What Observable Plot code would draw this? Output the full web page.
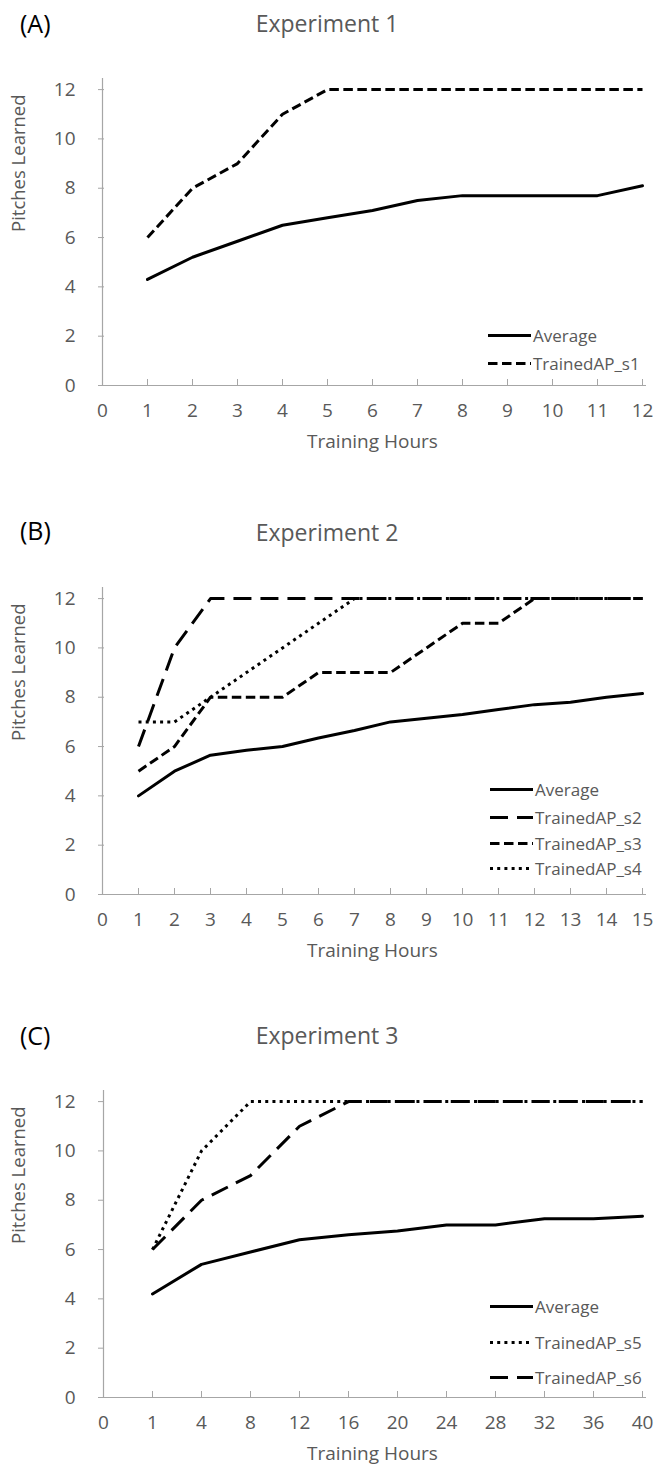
<!DOCTYPE html>
<html><head><meta charset="utf-8">
<script src="https://cdn.jsdelivr.net/npm/d3@7"></script>
<script src="https://cdn.jsdelivr.net/npm/@observablehq/plot@0.6"></script>
<style>
body{margin:0;background:#fff;font-family:"Open Sans",sans-serif;}
#wrap{position:relative;width:659px;height:1470px;overflow:hidden;background:#fff;}
.abs{position:absolute;white-space:nowrap;line-height:1;}
.plabel{font-size:25px;color:#000;transform:translateY(-50%);}
.title{font-size:23px;color:#595959;transform:translate(-50%,-50%);}
.leg{position:absolute;font-size:17px;color:#595959;display:flex;align-items:center;transform:translateY(-50%);line-height:1;white-space:nowrap;}
.leg svg{display:block;margin-right:2px;}
svg.plot{position:absolute;left:0;}
</style></head><body><div id="wrap"></div>
<script>
// ---------- data ----------
const hoursA = ["0","1","2","3","4","5","6","7","8","9","10","11","12"];
const averageA = [4.3, 5.2, 5.85, 6.5, 6.8, 7.1, 7.5, 7.7, 7.7, 7.7, 7.7, 8.1];
const trainedS1 = [6, 8, 9, 11, 12, 12, 12, 12, 12, 12, 12, 12];

const hoursB = ["0","1","2","3","4","5","6","7","8","9","10","11","12","13","14","15"];
const averageB = [4.0, 5.0, 5.65, 5.85, 6.0, 6.35, 6.65, 7.0, 7.15, 7.3, 7.5, 7.7, 7.8, 8.0, 8.15];
const trainedS2 = [6, 10, 12, 12, 12, 12, 12, 12, 12, 12, 12, 12, 12, 12, 12];
const trainedS3 = [5, 6, 8, 8, 8, 9, 9, 9, 10, 11, 11, 12, 12, 12, 12];
const trainedS4 = [7, 7, 8, 9, 10, 11, 12, 12, 12, 12, 12, 12, 12, 12, 12];

const hoursC = ["0","1","4","8","12","16","20","24","28","32","36","40"];
const averageC = [4.2, 5.4, 5.9, 6.4, 6.6, 6.75, 7.0, 7.0, 7.25, 7.25, 7.35];
const trainedS5 = [6, 10, 12, 12, 12, 12, 12, 12, 12, 12, 12];
const trainedS6 = [6, 8, 9, 11, 12, 12, 12, 12, 12, 12, 12];

const yTicks = [0, 2, 4, 6, 8, 10, 12];

// ---------- styles ----------
const SOLID = null, DASH = "9.5,4.5", LONG = "18,9", DOT = "3,4.2";

const panels = [
  {tag: "(A)", title: "Experiment 1", hours: hoursA, top: 58, tagY: 23, titleY: 23,
   series: [{name: "Average", values: averageA, dash: SOLID}, {name: "TrainedAP_s1", values: trainedS1, dash: DASH}],
   legendX: 488, legendY: [335, 363]},
  {tag: "(B)", title: "Experiment 2", hours: hoursB, top: 567, tagY: 530, titleY: 532,
   series: [{name: "Average", values: averageB, dash: SOLID}, {name: "TrainedAP_s2", values: trainedS2, dash: LONG},
            {name: "TrainedAP_s3", values: trainedS3, dash: DASH}, {name: "TrainedAP_s4", values: trainedS4, dash: DOT}],
   legendX: 490, legendY: [789, 817, 843, 868]},
  {tag: "(C)", title: "Experiment 3", hours: hoursC, top: 1070, tagY: 1035, titleY: 1035,
   series: [{name: "Average", values: averageC, dash: SOLID}, {name: "TrainedAP_s5", values: trainedS5, dash: DOT},
            {name: "TrainedAP_s6", values: trainedS6, dash: LONG}],
   legendX: 490, legendY: [1306, 1342, 1377]}
];

const wrap = document.getElementById("wrap");
const AXIS = "#a6a6a6", TEXT = "#595959";

for (const p of panels) {
  const lineMarks = p.series.map(s => {
    const rows = s.values.map((v, i) => ({hour: p.hours[i + 1], value: v}));
    return Plot.line(rows, {
      x: "hour", y: "value", stroke: "black", strokeWidth: 3,
      strokeDasharray: s.dash || undefined,
      strokeLinecap: s.dash ? "butt" : "round", strokeLinejoin: "round"
    });
  });

  const chart = Plot.plot({
    width: 659, height: 407,
    marginTop: 20, marginBottom: 80, marginLeft: 98, marginRight: 13,
    style: {fontFamily: "'Open Sans', sans-serif", fontSize: "19px", background: "transparent", overflow: "visible"},
    x: {type: "point", domain: p.hours, padding: 0},
    y: {domain: [0, 12.45]},
    marks: [
      Plot.axisY({ticks: yTicks, tickSize: -6, tickPadding: 29, stroke: AXIS, fill: TEXT, fontSize: 19, label: null}),
      Plot.axisX({tickSize: -6, tickPadding: 24, stroke: AXIS, fill: TEXT, fontSize: 19, label: null}),
      Plot.ruleY([0], {stroke: AXIS, strokeWidth: 1.2}),
      Plot.ruleX([p.hours[0]], {stroke: AXIS, strokeWidth: 1.2}),
      Plot.text(["Pitches Learned"], {frameAnchor: "left", rotate: -90, dx: -79, fontSize: 18.5, fill: TEXT}),
      Plot.text(["Training Hours"], {frameAnchor: "bottom", dy: 62, fontSize: 19, fill: TEXT}),
      ...lineMarks
    ]
  });
  chart.classList.add("plot");
  chart.style.top = p.top + "px";
  wrap.appendChild(chart);

  const tag = document.createElement("div");
  tag.className = "abs plabel";
  tag.textContent = p.tag;
  tag.style.left = "20px"; tag.style.top = p.tagY + "px";
  wrap.appendChild(tag);

  const title = document.createElement("div");
  title.className = "abs title";
  title.textContent = p.title;
  title.style.left = "327px"; title.style.top = p.titleY + "px";
  wrap.appendChild(title);

  p.series.forEach((s, i) => {
    const row = document.createElement("div");
    row.className = "leg";
    row.style.left = p.legendX + "px";
    row.style.top = p.legendY[i] + "px";
    const ns = "http://www.w3.org/2000/svg";
    const sv = document.createElementNS(ns, "svg");
    sv.setAttribute("width", 43); sv.setAttribute("height", 8);
    const ln = document.createElementNS(ns, "line");
    ln.setAttribute("x1", 0); ln.setAttribute("x2", 43);
    ln.setAttribute("y1", 4); ln.setAttribute("y2", 4);
    ln.setAttribute("stroke", "black"); ln.setAttribute("stroke-width", 3);
    if (s.dash) ln.setAttribute("stroke-dasharray", s.dash);
    sv.appendChild(ln);
    row.appendChild(sv);
    const t = document.createElement("span");
    t.textContent = s.name;
    row.appendChild(t);
    wrap.appendChild(row);
  });
}
</script></body></html>
